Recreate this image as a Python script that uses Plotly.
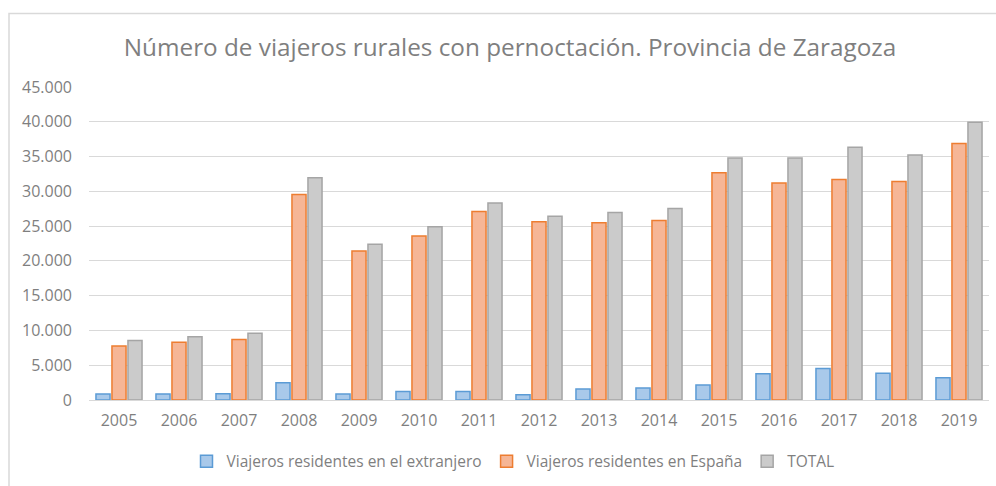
import plotly.graph_objects as go

years = ["2005", "2006", "2007", "2008", "2009", "2010", "2011", "2012",
         "2013", "2014", "2015", "2016", "2017", "2018", "2019"]
extranjero = [850, 880, 900, 2470, 850, 1240, 1240, 760, 1570, 1710, 2140, 3760, 4520, 3860, 3190]
espana = [7760, 8290, 8710, 29530, 21430, 23570, 27100, 25620, 25480, 25810, 32670, 31190, 31710, 31430, 36860]
total = [8570, 9100, 9610, 31950, 22380, 24900, 28330, 26430, 26950, 27520, 34810, 34810, 36330, 35240, 39950]

names = ["Viajeros residentes en el extranjero", "Viajeros residentes en España", "TOTAL"]
fills = ["#a9c9ea", "#f6b696", "#cbcbcb"]
lines = ["#5b9bd5", "#ed7d31", "#a5a5a5"]

fig = go.Figure()
for name, vals, fc, lc in zip(names, [extranjero, espana, total], fills, lines):
    fig.add_trace(go.Bar(x=years, y=vals, name=name,
                         marker=dict(color=fc, line=dict(color=lc, width=1.5))))

L, R, T, B = 89, 7, 87, 84
W, H = 996, 486
pw, ph = W - L - R, H - T - B

fig.update_layout(
    width=W, height=H,
    margin=dict(l=L, r=R, t=T, b=B),
    paper_bgcolor="white", plot_bgcolor="white",
    separators=",.",
    barmode="group", bargap=0.2, bargroupgap=0.12,
    font=dict(family="Open Sans", color="#7f7f7f", size=16),
    title=dict(text="Número de viajeros rurales con pernoctación. Provincia de Zaragoza",
               x=(510) / W, xanchor="center", y=1 - 47 / H, yanchor="middle",
               font=dict(family="Open Sans", size=24.3, color="#7f7f7f")),
    showlegend=True,
    legend=dict(orientation="h", x=(513 - L) / pw, xanchor="center",
                y=(402 - 464) / ph, yanchor="middle",
                font=dict(size=15.5, color="#7f7f7f"), itemwidth=30,
                traceorder="normal"),
    xaxis=dict(showgrid=False, showline=True, linecolor="#d9d9d9", linewidth=1,
               ticks="", tickfont=dict(size=16, color="#7f7f7f"), ticklabelstandoff=6),
    yaxis=dict(range=[0, 45000], dtick=5000, tickformat=",", showgrid=True,
               gridcolor="#d9d9d9", gridwidth=1, zeroline=False, showline=False,
               ticks="", tickfont=dict(size=16, color="#7f7f7f"), ticklabelstandoff=16),
    shapes=[dict(type="rect", xref="paper", yref="paper",
                 x0=(9 - L) / pw, x1=(W + 20 - L) / pw,
                 y0=(402 - (H + 20)) / ph, y1=(402 - 13) / ph,
                 line=dict(color="#d9d9d9", width=1.5), fillcolor="rgba(0,0,0,0)",
                 layer="below")],
)

fig.write_html("out.html",
               config={"displayModeBar": False},
               post_script="document.body.style.margin='0';document.body.style.overflow='hidden';")
